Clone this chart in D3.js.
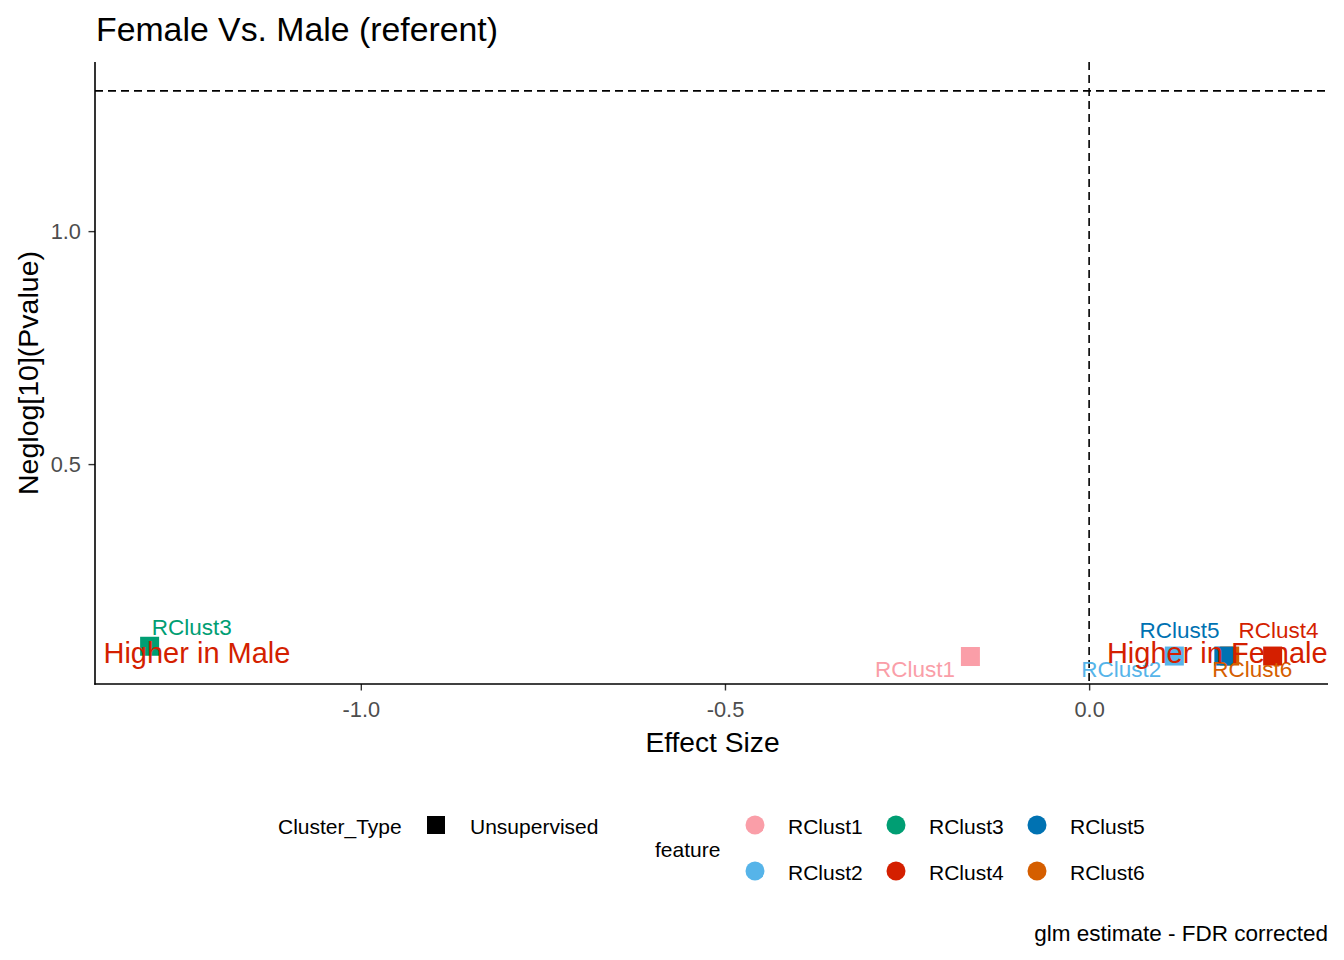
<!DOCTYPE html>
<html><head><meta charset="utf-8">
<script src="https://cdn.jsdelivr.net/npm/d3@7"></script>
<style>body{margin:0;background:#fff}svg{font-family:"Liberation Sans",Arial,sans-serif}</style>
</head><body>
<svg id="chart" width="1344" height="960"></svg>
<script>
// ---- data ----
const features = ["RClust1","RClust2","RClust3","RClust4","RClust6","RClust5"];
const effectSize = [-0.163, 0.117, -1.290, 0.252, 0.193, 0.185];
const negLogP = [0.087, 0.088, 0.109, 0.088, 0.088, 0.088];
const labelX = [-0.239, 0.044, -1.232, 0.260, 0.224, 0.124];
const labelY = [0.060, 0.060, 0.150, 0.142, 0.060, 0.142];
const legendFeatures = ["RClust1","RClust2","RClust3","RClust4","RClust5","RClust6"];
const featureColors = ["#FA9EA8","#56B4E9","#009E73","#D41F00","#0072B2","#D55E00"];
const xTicks = [-1.0, -0.5, 0.0];
const yTicks = [0.5, 1.0];
const annotTexts = ["Higher in Male","Higher in Female"];
const annotX = [-1.225, 0.176];
const annotY = [0.094, 0.094];
const sigThreshold = 1.30103; // -log10(0.05)

// ---- layout ----
const svg = d3.select("#chart");
const L = 95, R = 1328, T = 62, B = 684;
const x = d3.scaleLinear().domain([-1.365, 0.328]).range([L, R]);
const y = d3.scaleLinear().domain([0.028, 1.363]).range([B, T]);
const color = d3.scaleOrdinal().domain(legendFeatures).range(featureColors);

// title
svg.append("text").attr("x", 96).attr("y", 29).attr("dominant-baseline","central")
  .attr("font-size", 33.8).attr("fill","#000").text("Female Vs. Male (referent)");

// reference lines
svg.append("line").attr("x1", L).attr("x2", R).attr("y1", y(sigThreshold)).attr("y2", y(sigThreshold))
  .attr("stroke","#000").attr("stroke-width",1.6).attr("stroke-dasharray","8,5");
svg.append("line").attr("x1", x(0)).attr("x2", x(0)).attr("y1", T).attr("y2", B)
  .attr("stroke","#000").attr("stroke-width",1.6).attr("stroke-dasharray","8,5");

// axes
const fmt = d => d3.format(".1f")(d).replace("\u2212","-");
const xAxis = svg.append("g").attr("transform",`translate(0,${B})`)
  .call(d3.axisBottom(x).tickValues(xTicks).tickFormat(fmt).tickSize(6.5).tickSizeOuter(0));
const yAxis = svg.append("g").attr("transform",`translate(${L},0)`)
  .call(d3.axisLeft(y).tickValues(yTicks).tickFormat(fmt).tickSize(6.5).tickSizeOuter(0));
[xAxis, yAxis].forEach(g => {
  g.select(".domain").remove();
  g.selectAll(".tick line").attr("stroke","#333").attr("stroke-width",1.4);
  g.selectAll(".tick text").attr("fill","#4D4D4D").attr("font-size",21.8)
    .attr("font-family","'Liberation Sans',Arial,sans-serif");
});
xAxis.selectAll(".tick text").attr("dy",null).attr("y",25).attr("dominant-baseline","central");
yAxis.selectAll(".tick text").attr("x",-14).attr("dy",null).attr("dominant-baseline","central");
svg.append("line").attr("x1",L).attr("x2",L).attr("y1",T).attr("y2",B+0.7).attr("stroke","#000").attr("stroke-width",1.6);
svg.append("line").attr("x1",L-0.7).attr("x2",R).attr("y1",B).attr("y2",B).attr("stroke","#000").attr("stroke-width",1.6);

// axis titles
svg.append("text").attr("x", (L+R)/2 + 1).attr("y", 742).attr("text-anchor","middle")
  .attr("dominant-baseline","central").attr("font-size",28.2).text("Effect Size");
svg.append("text").attr("transform",`translate(28,${(T+B)/2}) rotate(-90)`).attr("text-anchor","middle")
  .attr("dominant-baseline","central").attr("font-size",28.5).text("Neglog[10](Pvalue)");

// points (squares)
const sq = 19;
const pts = features.map((f,i)=>({f, ex: effectSize[i], p: negLogP[i], lx: labelX[i], ly: labelY[i]}));
svg.append("g").selectAll("rect").data(pts).join("rect")
  .attr("x", d => x(d.ex) - sq/2).attr("y", d => y(d.p) - sq/2)
  .attr("width", sq).attr("height", sq).attr("fill", d => color(d.f));

// repel labels
svg.append("g").selectAll("text").data(pts).join("text")
  .attr("x", d => x(d.lx)).attr("y", d => y(d.ly)).attr("text-anchor","middle")
  .attr("dominant-baseline","central").attr("font-size",22.5).attr("fill", d => color(d.f)).text(d => d.f);

// annotations
svg.append("g").selectAll("text").data(annotTexts).join("text")
  .attr("x", (d,i) => x(annotX[i])).attr("y", (d,i) => y(annotY[i])).attr("text-anchor","middle")
  .attr("dominant-baseline","central").attr("font-size",29).attr("fill","#D41F00").text(d => d);

// legend: Cluster_Type
const lg = svg.append("g").attr("font-size",21).attr("fill","#000");
lg.append("text").attr("x",278).attr("y",826).attr("dominant-baseline","central").text("Cluster_Type");
lg.append("rect").attr("x",427).attr("y",816).attr("width",18).attr("height",18).attr("fill","#000");
lg.append("text").attr("x",470).attr("y",826).attr("dominant-baseline","central").text("Unsupervised");

// legend: feature
lg.append("text").attr("x",655).attr("y",849).attr("dominant-baseline","central").text("feature");
const colX = [755, 896, 1037], rowY = [825, 871];
legendFeatures.forEach((f,i) => {
  const cx = colX[Math.floor(i/2)], cy = rowY[i%2];
  lg.append("circle").attr("cx",cx).attr("cy",cy).attr("r",9.5).attr("fill",color(f));
  lg.append("text").attr("x",cx+33).attr("y",cy+1).attr("dominant-baseline","central").text(f);
});

// caption
svg.append("text").attr("x",1328).attr("y",933).attr("text-anchor","end")
  .attr("dominant-baseline","central").attr("font-size",22.5).text("glm estimate - FDR corrected");
</script>
</body></html>
